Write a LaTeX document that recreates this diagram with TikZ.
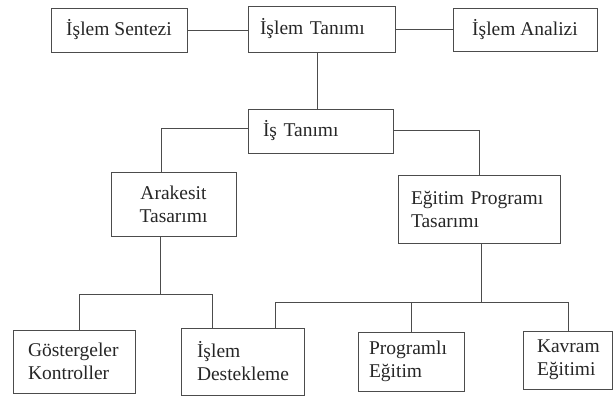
\documentclass[tikz,border=0pt]{standalone}
\usepackage{fontspec}
\setmainfont{Liberation Serif}
\begin{document}
\begin{tikzpicture}[x=1pt,y=-1pt,
  box/.style={draw=black!70, line width=1pt, inner sep=0pt, font=\fontsize{19.5}{23}\selectfont, text=black!85},
  lbox/.style={box, align=left},
  cbox/.style={box, align=center},
  ln/.style={draw=black!70, line width=1pt}]
\useasboundingbox (0,0) rectangle (613,397);
% top row
\node[cbox, minimum width=136pt, minimum height=44pt] (sentez) at (119,30) {İşlem Sentezi};
\node[lbox, minimum width=147pt, minimum height=46pt, text width=123pt, inner xsep=12pt] (tanim) at (321.5,29) {\mbox{İşlem Tanımı}};
\node[cbox, minimum width=144pt, minimum height=43pt] (analiz) at (525,29.5) {İşlem Analizi};
% second level
\node[lbox, minimum width=145pt, minimum height=44pt, text width=115pt, inner xsep=15pt] (is) at (320.5,131) {\mbox{İş Tanımı}};
% third level
\node[cbox, minimum width=125pt, minimum height=64pt] (arak) at (173.5,204) {Arakesit\\Tasarımı};
\node[lbox, minimum width=162pt, minimum height=68pt, text width=136pt, inner xsep=13pt] (egitim) at (479,209) {\mbox{Eğitim Programı}\\Tasarımı};
% bottom row
\node[lbox, minimum width=122pt, minimum height=63pt, text width=92pt, inner xsep=15pt] (gost) at (74,361.5) {\mbox{Göstergeler}\\\mbox{Kontroller}};
\node[lbox, minimum width=123pt, minimum height=67pt, text width=91pt, inner xsep=16pt] (dest) at (242.5,361.5) {İşlem\\\mbox{Destekleme}};
\node[lbox, minimum width=106pt, minimum height=59pt, text width=84pt, inner xsep=11pt] (prog) at (411,361.5) {\mbox{Programlı}\\Eğitim};
\node[lbox, minimum width=89pt, minimum height=58pt, text width=61pt, inner xsep=14pt] (kavram) at (567.5,360) {\mbox{Kavram}\\\mbox{Eğitimi}};
% junction coordinates
\coordinate (jt) at (317,80);
\coordinate (jl) at (161,128);
\coordinate (jr) at (479,130);
\coordinate (ja) at (160,294);
\coordinate (ga) at (79,294);
\coordinate (da) at (212,294);
\coordinate (jb) at (481,302);
\coordinate (db) at (275,302);
\coordinate (pb) at (411,302);
\coordinate (kb) at (568,302);
% connectors
\draw[ln] (sentez.east) -- (tanim.west |- sentez.east);
\draw[ln] (tanim.east) -- (analiz.west |- tanim.east);
\draw[ln] (tanim.south -| jt) -- (is.north -| jt);
\draw[ln] (is.west |- jl) -- (jl) -- (arak.north -| jl);
\draw[ln] (is.east |- jr) -- (jr) -- (egitim.north -| jr);
\draw[ln] (arak.south -| ja) -- (ja);
\draw[ln] (gost.north -| ga) -- (ga) -- (da) -- (dest.north -| da);
\draw[ln] (egitim.south -| jb) -- (jb);
\draw[ln] (dest.north -| db) -- (db) -- (kb) -- (kavram.north -| kb);
\draw[ln] (pb) -- (prog.north -| pb);
\end{tikzpicture}
\end{document}
